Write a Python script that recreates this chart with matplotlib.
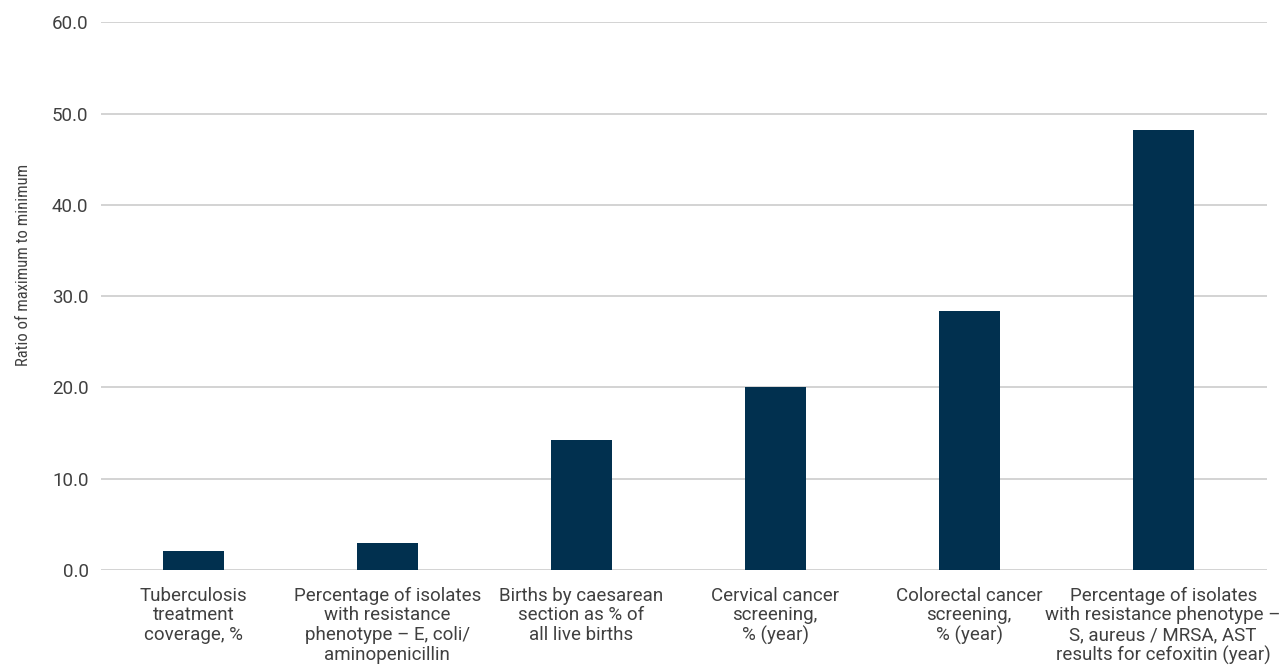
import matplotlib
matplotlib.use("Agg")
import matplotlib.pyplot as plt

# categories and ratio values
labels = [
    "Tuberculosis\ntreatment\ncoverage, %",
    "Percentage of isolates\nwith resistance\nphenotype \u2013 E, coli/\naminopenicillin",
    "Births by caesarean\nsection as % of\nall live births",
    "Cervical cancer\nscreening,\n% (year)",
    "Colorectal cancer\nscreening,\n% (year)",
    "Percentage of isolates\nwith resistance phenotype \u2013\nS, aureus / MRSA, AST\nresults for cefoxitin (year)",
]
ratios = [2.1, 3.0, 14.2, 20.0, 28.4, 48.2]
yticks = [0, 10, 20, 30, 40, 50, 60]

plt.rcParams['font.family'] = ['Roboto', 'DejaVu Sans']

fig = plt.figure(figsize=(12.84, 6.68), dpi=100)
ax = fig.add_axes([0.0787, 0.1467, 0.908, 0.820])

x = list(range(len(ratios)))
ax.bar(x, ratios, width=0.314, color='#01304f', zorder=3)

ax.set_xlim(-0.476, 5.535)
ax.set_ylim(0, 60)
ax.set_yticks(yticks)
ax.set_yticklabels([f"{v:.1f}" for v in yticks], fontsize=13.5, color='#404040')
ax.set_xticks(x)
ax.set_xticklabels(labels, fontsize=13.5, color='#404040', linespacing=1.12)
ax.tick_params(axis='both', length=0)
ax.tick_params(axis='y', pad=9)
ax.tick_params(axis='x', pad=12)

ax.grid(axis='y', color='#d0d0d0', linewidth=1.3, zorder=0)
for s in ax.spines.values():
    s.set_visible(False)

ax.set_ylabel("Ratio of maximum to minimum", fontsize=12, color='#404040',
              family=['Roboto Condensed', 'Roboto', 'DejaVu Sans'])
ax.yaxis.set_label_coords(-0.060, 0.557)

fig.savefig("out.png", dpi=100)
